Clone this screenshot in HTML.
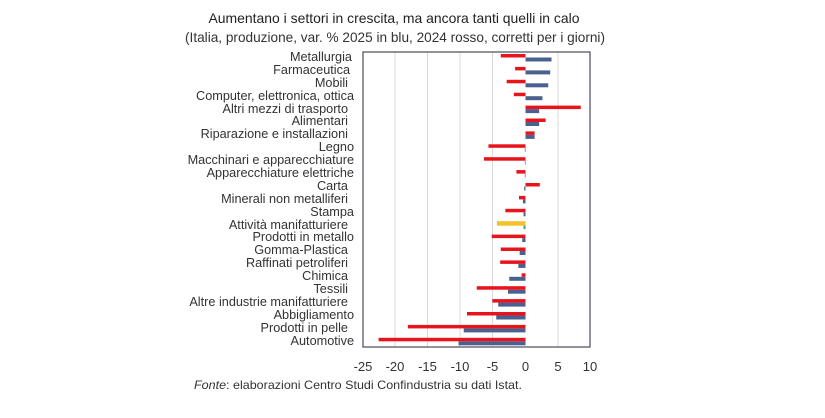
<!DOCTYPE html>
<html><head><meta charset="utf-8"><style>
body{margin:0;background:#fff;}
svg{display:block;font-family:"Liberation Sans",sans-serif;}
</style></head><body>
<svg id="s" width="825" height="418" xmlns="http://www.w3.org/2000/svg">
<text x="394" y="23" font-size="14" text-anchor="middle" fill="#222" textLength="371" lengthAdjust="spacingAndGlyphs">Aumentano i settori in crescita, ma ancora tanti quelli in calo</text>
<text x="395" y="42" font-size="14" text-anchor="middle" fill="#333" textLength="420" lengthAdjust="spacingAndGlyphs">(Italia, produzione, var. % 2025 in blu, 2024 rosso, corretti per i giorni)</text>
<g stroke="#d9d9d9" stroke-width="1">
<line x1="395" y1="52" x2="395" y2="347"/><line x1="427.5" y1="52" x2="427.5" y2="347"/><line x1="460" y1="52" x2="460" y2="347"/><line x1="492.5" y1="52" x2="492.5" y2="347"/><line x1="558" y1="52" x2="558" y2="347"/>
</g>
<rect x="363" y="52" width="227" height="295" fill="none" stroke="#4a4a5a" stroke-width="1.2"/>
<g id="bars"></g>
<g font-size="12.7" fill="#333" text-anchor="end" id="labels">
<text x="352" y="61">Metallurgia</text>
<text x="350" y="74">Farmaceutica</text>
<text x="348" y="87">Mobili</text>
<text x="354" y="100">Computer, elettronica, ottica</text>
<text x="348" y="113">Altri mezzi di trasporto</text>
<text x="348" y="125">Alimentari</text>
<text x="348" y="138">Riparazione e installazioni</text>
<text x="354" y="151">Legno</text>
<text x="354" y="164">Macchinari e apparecchiature</text>
<text x="354" y="177">Apparecchiature elettriche</text>
<text x="348" y="190">Carta</text>
<text x="348" y="203">Minerali non metalliferi</text>
<text x="354" y="216">Stampa</text>
<text x="348" y="229">Attività manifatturiere</text>
<text x="354" y="241">Prodotti in metallo</text>
<text x="348" y="254">Gomma-Plastica</text>
<text x="348" y="267">Raffinati petroliferi</text>
<text x="348" y="280">Chimica</text>
<text x="348" y="293">Tessili</text>
<text x="348" y="306">Altre industrie manifatturiere</text>
<text x="354" y="319">Abbigliamento</text>
<text x="348" y="332">Prodotti in pelle</text>
<text x="354" y="345">Automotive</text>
</g>
<g font-size="13" fill="#333" text-anchor="middle">
<text x="363" y="371">-25</text><text x="395" y="371">-20</text><text x="427.5" y="371">-15</text><text x="460" y="371">-10</text><text x="492.5" y="371">-5</text><text x="525.5" y="371">0</text><text x="558" y="371">5</text><text x="590" y="371">10</text>
</g>
<text x="194" y="389" font-size="12" fill="#333" textLength="328" lengthAdjust="spacingAndGlyphs"><tspan font-style="italic">Fonte</tspan>: elaborazioni Centro Studi Confindustria su dati Istat.</text>
</svg>
<script>
var d=[[-3.8,4.0],[-1.6,3.8],[-2.9,3.5],[-1.8,2.6],[8.5,2.1],[3.1,2.1],[1.4,1.4],[-5.7,-0.1],[-6.4,-0.1],[-1.4,-0.1],[2.2,-0.2],[-1.0,-0.4],[-3.1,-0.3],[-4.4,-0.3],[-5.2,-0.5],[-3.8,-0.9],[-3.9,-1.1],[-0.6,-2.5],[-7.5,-2.7],[-5.1,-4.2],[-9.0,-4.5],[-18.1,-9.5],[-22.6,-10.3]];
var g=document.getElementById('bars'),z=525.5,k=6.5,h='';
d.forEach(function(v,i){var c=57.5+i*12.9;
function r(val,y,hh,col){var x=val<0?z+val*k:z,w=Math.abs(val)*k;h+='<rect x="'+x+'" y="'+y+'" width="'+w+'" height="'+hh+'" fill="'+col+'"/>';}
r(v[1],c,4,i==13?'#3a9a9a':'#4a6090');
if(i==13) r(v[0],c-4,4.5,'#f2c12e'); else r(v[0],c-3.5,3.5,'#e8141c');
});
g.innerHTML=h;
</script>
</body></html>
